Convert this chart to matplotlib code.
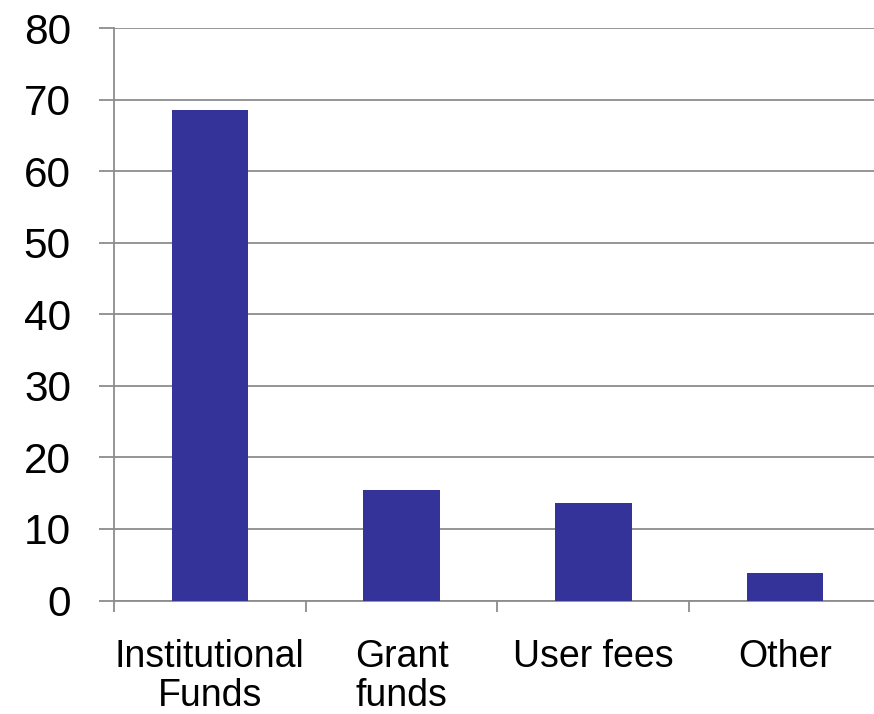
import matplotlib.pyplot as plt
import numpy as np

plt.rcParams['font.family'] = ['Liberation Sans', 'DejaVu Sans']

# データ
categories = ['Institutional\nFunds', 'Grant\nfunds', 'User fees', 'Other']
values = [68.5, 15.4, 13.6, 3.8]
y_ticks = [0, 10, 20, 30, 40, 50, 60, 70, 80]

W, H = 874, 714
fig = plt.figure(figsize=(W / 100, H / 100), dpi=100)
# 右端は画像の外まで伸びている
ax = fig.add_axes([114 / W, (H - 600.5) / H, 767 / W, 572.5 / H])

x = np.arange(len(categories))
ax.bar(x, values, width=0.4, color='#333399', zorder=3)

ax.set_xlim(-0.5, len(categories) - 0.5)
ax.set_ylim(0, 80)
ax.set_yticks(y_ticks)
ax.grid(axis='y', color='#8c8c8c', linewidth=1.3, zorder=0)

# 目盛り線は区切り位置、ラベルは中央
ax.set_xticks(np.arange(len(categories) + 1) - 0.5)
ax.set_xticklabels([])
ax.set_xticks(x, minor=True)
ax.set_xticklabels(categories, minor=True, fontsize=27, linespacing=1.08)
ax.tick_params(axis='x', which='major', length=8, width=1.3, color='#8c8c8c')
ax.tick_params(axis='x', which='minor', length=0, pad=28)
ax.tick_params(axis='y', length=11, width=1.3, color='#8c8c8c', labelsize=30.5, pad=20)

for s in ['top', 'right']:
    ax.spines[s].set_visible(False)
for s in ['left', 'bottom']:
    ax.spines[s].set_color('#8c8c8c')
    ax.spines[s].set_linewidth(1.3)

plt.savefig('out.png', dpi=100)
